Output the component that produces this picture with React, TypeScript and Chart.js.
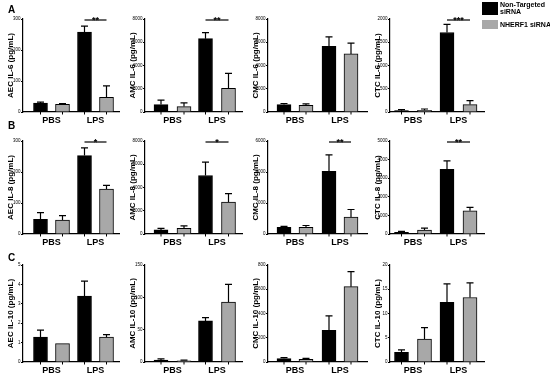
import React, { useEffect, useRef } from 'react';
import { Chart, registerables } from 'chart.js';

Chart.register(...registerables);

const GROUPS = ['PBS', 'LPS'];
const SERIES = ['Non-Targeted siRNA', 'NHERF1 siRNA'];

// Row A: IL-6
const AEC_IL6_NT = [29, 258];
const AEC_IL6_NT_SEM = [3, 19];
const AEC_IL6_NH = [25, 47];
const AEC_IL6_NH_SEM = [2, 37];

const AMC_IL6_NT = [640, 6310];
const AMC_IL6_NT_SEM = [380, 520];
const AMC_IL6_NH = [465, 2040];
const AMC_IL6_NH_SEM = [320, 1280];

const CMC_IL6_NT = [640, 5640];
const CMC_IL6_NT_SEM = [90, 815];
const CMC_IL6_NH = [580, 5000];
const CMC_IL6_NH_SEM = [120, 930];

const CTC_IL6_NT = [29, 1710];
const CTC_IL6_NT_SEM = [21, 173];
const CTC_IL6_NH = [36, 159];
const CTC_IL6_NH_SEM = [29, 86];

// Row B: IL-8
const AEC_IL8_NT = [47, 253];
const AEC_IL8_NT_SEM = [22, 25];
const AEC_IL8_NH = [45, 145];
const AEC_IL8_NH_SEM = [14, 12];

const AMC_IL8_NT = [350, 5030];
const AMC_IL8_NT_SEM = [140, 1150];
const AMC_IL8_NH = [490, 2750];
const AMC_IL8_NH_SEM = [210, 720];

const CMC_IL8_NT = [430, 4040];
const CMC_IL8_NT_SEM = [60, 1070];
const CMC_IL8_NH = [430, 1090];
const CMC_IL8_NH_SEM = [120, 490];

const CTC_IL8_NT = [90, 3480];
const CTC_IL8_NT_SEM = [55, 450];
const CTC_IL8_NH = [215, 1250];
const CTC_IL8_NH_SEM = [105, 180];

// Row C: IL-10
const AEC_IL10_NT = [1.29, 3.4];
const AEC_IL10_NT_SEM = [0.35, 0.77];
const AEC_IL10_NH = [0.95, 1.28];
const AEC_IL10_NH_SEM = [0, 0.13];

const AMC_IL10_NT = [3, 63.5];
const AMC_IL10_NT_SEM = [1.7, 5.2];
const AMC_IL10_NH = [2, 92.7];
const AMC_IL10_NH_SEM = [1, 27.3];

const CMC_IL10_NT = [28, 262];
const CMC_IL10_NT_SEM = [8, 119];
const CMC_IL10_NH = [22, 621];
const CMC_IL10_NH_SEM = [8, 124];

const CTC_IL10_NT = [2.0, 12.3];
const CTC_IL10_NT_SEM = [0.5, 3.8];
const CTC_IL10_NH = [4.75, 13.3];
const CTC_IL10_NH_SEM = [2.35, 3.0];

// axis maxima and tick steps
const Y_MAX = [
  [300, 8000, 8000, 2000],
  [300, 8000, 6000, 5000],
  [5, 150, 800, 20],
];
const Y_STEP = [
  [100, 2000, 2000, 500],
  [100, 2000, 2000, 1000],
  [1, 50, 200, 5],
];
const CELLS = ['AEC', 'AMC', 'CMC', 'CTC'];
const CYTOKINES = ['IL-6', 'IL-8', 'IL-10'];
const SIG = [
  ['**', '**', '', '***'],
  ['*', '*', '**', '**'],
  ['', '', '', ''],
];

const VALUES = [
  [
    [AEC_IL6_NT, AEC_IL6_NT_SEM, AEC_IL6_NH, AEC_IL6_NH_SEM],
    [AMC_IL6_NT, AMC_IL6_NT_SEM, AMC_IL6_NH, AMC_IL6_NH_SEM],
    [CMC_IL6_NT, CMC_IL6_NT_SEM, CMC_IL6_NH, CMC_IL6_NH_SEM],
    [CTC_IL6_NT, CTC_IL6_NT_SEM, CTC_IL6_NH, CTC_IL6_NH_SEM],
  ],
  [
    [AEC_IL8_NT, AEC_IL8_NT_SEM, AEC_IL8_NH, AEC_IL8_NH_SEM],
    [AMC_IL8_NT, AMC_IL8_NT_SEM, AMC_IL8_NH, AMC_IL8_NH_SEM],
    [CMC_IL8_NT, CMC_IL8_NT_SEM, CMC_IL8_NH, CMC_IL8_NH_SEM],
    [CTC_IL8_NT, CTC_IL8_NT_SEM, CTC_IL8_NH, CTC_IL8_NH_SEM],
  ],
  [
    [AEC_IL10_NT, AEC_IL10_NT_SEM, AEC_IL10_NH, AEC_IL10_NH_SEM],
    [AMC_IL10_NT, AMC_IL10_NT_SEM, AMC_IL10_NH, AMC_IL10_NH_SEM],
    [CMC_IL10_NT, CMC_IL10_NT_SEM, CMC_IL10_NH, CMC_IL10_NH_SEM],
    [CTC_IL10_NT, CTC_IL10_NT_SEM, CTC_IL10_NH, CTC_IL10_NH_SEM],
  ],
];

// layout (page pixels)
const ROW_Y = [
  [19, 112],
  [141, 234],
  [265, 362],
];
const COL_X = [
  [23, 119],
  [145, 242],
  [268, 367],
  [390, 484],
];
// group centres and half spacing between the two bars of a group
const COL_G = [
  [51.5, 95.5, 11],
  [172.5, 217, 11.5],
  [295, 340, 11],
  [413, 458.5, 11.5],
];

const FONT = '"Liberation Sans", Arial, sans-serif';
const AXW = 22;
const PT = 10;
const XH = 16;
const PR = 4;

const overlayPlugin = {
  id: 'overlay',
  afterDatasetsDraw(chart: any) {
    const { ctx } = chart;
    const ys = chart.scales.y;
    const base = ys.getPixelForValue(0);
    ctx.save();
    ctx.strokeStyle = '#000';
    ctx.lineWidth = 1.2;
    chart.data.datasets.forEach((ds: any, di: number) => {
      const meta = chart.getDatasetMeta(di);
      meta.data.forEach((bar: any, i: number) => {
        const v = ds.data[i].y;
        const e = ds.err[i];
        if (e > 0) {
          const top = ys.getPixelForValue(v + e);
          ctx.beginPath();
          ctx.moveTo(bar.x, bar.y);
          ctx.lineTo(bar.x, top);
          ctx.moveTo(bar.x - 3.5, top);
          ctx.lineTo(bar.x + 3.5, top);
          ctx.stroke();
        }
        ctx.beginPath();
        ctx.lineWidth = 1;
        ctx.moveTo(bar.x, base);
        ctx.lineTo(bar.x, base + 2.5);
        ctx.stroke();
        ctx.lineWidth = 1.2;
      });
    });
    const sig = chart.options.plugins.overlay?.sig;
    if (sig) {
      const a = chart.getDatasetMeta(0).data[1];
      const b = chart.getDatasetMeta(1).data[1];
      const y = chart.chartArea.top + 1;
      ctx.lineWidth = 1.2;
      ctx.beginPath();
      ctx.moveTo(a.x, y);
      ctx.lineTo(b.x, y);
      ctx.stroke();
      ctx.fillStyle = '#000';
      ctx.font = `bold 9px ${FONT}`;
      ctx.textAlign = 'center';
      ctx.textBaseline = 'alphabetic';
      ctx.fillText(sig, (a.x + b.x) / 2, y + 2.5);
    }
    ctx.restore();
  },
};

function Panel({ r, c }: { r: number; c: number }) {
  const ref = useRef<HTMLCanvasElement>(null);
  const [yTop, yBase] = ROW_Y[r];
  const [xL, xR] = COL_X[c];
  const [g1, g2, off] = COL_G[c];
  const w = xR - xL + AXW + PR;
  const h = yBase - yTop + PT + XH;
  useEffect(() => {
    const [nt, ntErr, nh, nhErr] = VALUES[r][c];
    const unit = g2 - g1;
    const o = off / unit;
    const mk = (vals: number[], d: number) =>
      vals.map((v, i) => ({ x: i + (d ? o : -o), y: v }));
    const chart = new Chart(ref.current as HTMLCanvasElement, {
      type: 'bar',
      data: {
        datasets: [
          {
            label: SERIES[0],
            data: mk(nt, 0),
            err: ntErr,
            backgroundColor: '#000',
            borderColor: '#000',
            borderWidth: 1,
            grouped: false,
            barThickness: 14,
          } as any,
          {
            label: SERIES[1],
            data: mk(nh, 1),
            err: nhErr,
            backgroundColor: '#a8a8a8',
            borderColor: '#000',
            borderWidth: 1,
            grouped: false,
            barThickness: 14,
          } as any,
        ],
      },
      options: {
        animation: false,
        responsive: false,
        devicePixelRatio: 1,
        layout: { padding: { top: PT, right: PR, left: 0, bottom: 0 } },
        plugins: {
          legend: { display: false },
          tooltip: { enabled: false },
          overlay: { sig: SIG[r][c] },
        } as any,
        scales: {
          x: {
            type: 'linear',
            offset: false,
            bounds: 'data',
            min: (xL - g1) / unit,
            max: (xR - g1) / unit,
            afterBuildTicks: (s: any) => {
              s.ticks = GROUPS.map((_, i) => ({ value: i }));
            },
            afterFit: (s: any) => {
              s.height = XH;
            },
            grid: { display: false, drawTicks: false, offset: false },
            border: { display: true, color: '#000', width: 1.2 },
            ticks: {
              callback: (v: any) => GROUPS[Math.round(v)] ?? '',
              font: { family: FONT, size: 9, weight: 'bold' },
              color: '#000',
              padding: 3.5,
              maxRotation: 0,
              autoSkip: false,
            },
          },
          y: {
            min: 0,
            max: Y_MAX[r][c],
            afterFit: (s: any) => {
              s.width = AXW;
            },
            ticks: {
              stepSize: Y_STEP[r][c],
              callback: (v: any) => String(v),
              font: { family: FONT, size: 4.5 },
              color: '#000',
              padding: 0.5,
            },
            grid: {
              drawOnChartArea: false,
              drawTicks: true,
              tickLength: 2,
              color: '#000',
              lineWidth: 1,
            },
            border: { color: '#000', width: 1.2 },
            title: {
              display: true,
              text: `${CELLS[c]} ${CYTOKINES[r]} (pg/mL)`,
              font: { family: FONT, size: 8, weight: 'bold' },
              color: '#000',
              padding: { top: 4.5, bottom: 0 },
            },
          },
        },
      } as any,
      plugins: [overlayPlugin],
    });
    return () => chart.destroy();
  }, []);
  return (
    <canvas
      ref={ref}
      width={w}
      height={h}
      style={{
        position: 'absolute',
        left: xL - AXW,
        top: yTop - PT,
        width: w,
        height: h,
        display: 'block',
      }}
    />
  );
}

const letterStyle: React.CSSProperties = {
  position: 'absolute',
  left: 8,
  fontFamily: FONT,
  fontWeight: 'bold',
  fontSize: 10,
  lineHeight: '10px',
  color: '#000',
};

export default function App() {
  const panels = [];
  for (let r = 0; r < 3; r++) for (let c = 0; c < 4; c++) panels.push(<Panel key={`${r}-${c}`} r={r} c={c} />);
  return (
    <div
      style={{
        position: 'absolute',
        left: 0,
        top: 0,
        width: 550,
        height: 376,
        background: '#fff',
        overflow: 'hidden',
      }}
    >
      {panels}
      <div style={{ ...letterStyle, top: 5 }}>A</div>
      <div style={{ ...letterStyle, top: 121 }}>B</div>
      <div style={{ ...letterStyle, top: 253 }}>C</div>
      <div style={{ position: 'absolute', left: 482, top: 2, width: 16, height: 13, background: '#000' }} />
      <div style={{ position: 'absolute', left: 482, top: 20, width: 16, height: 9, background: '#a8a8a8' }} />
      <div
        style={{
          position: 'absolute',
          left: 500,
          top: 1,
          fontFamily: FONT,
          fontWeight: 'bold',
          fontSize: 7,
          lineHeight: '7px',
          color: '#000',
        }}
      >
        Non-Targeted
        <br />
        siRNA
      </div>
      <div
        style={{
          position: 'absolute',
          left: 500,
          top: 21,
          fontFamily: FONT,
          fontWeight: 'bold',
          fontSize: 7,
          lineHeight: '7px',
          color: '#000',
          whiteSpace: 'nowrap',
        }}
      >
        NHERF1 siRNA
      </div>
    </div>
  );
}
